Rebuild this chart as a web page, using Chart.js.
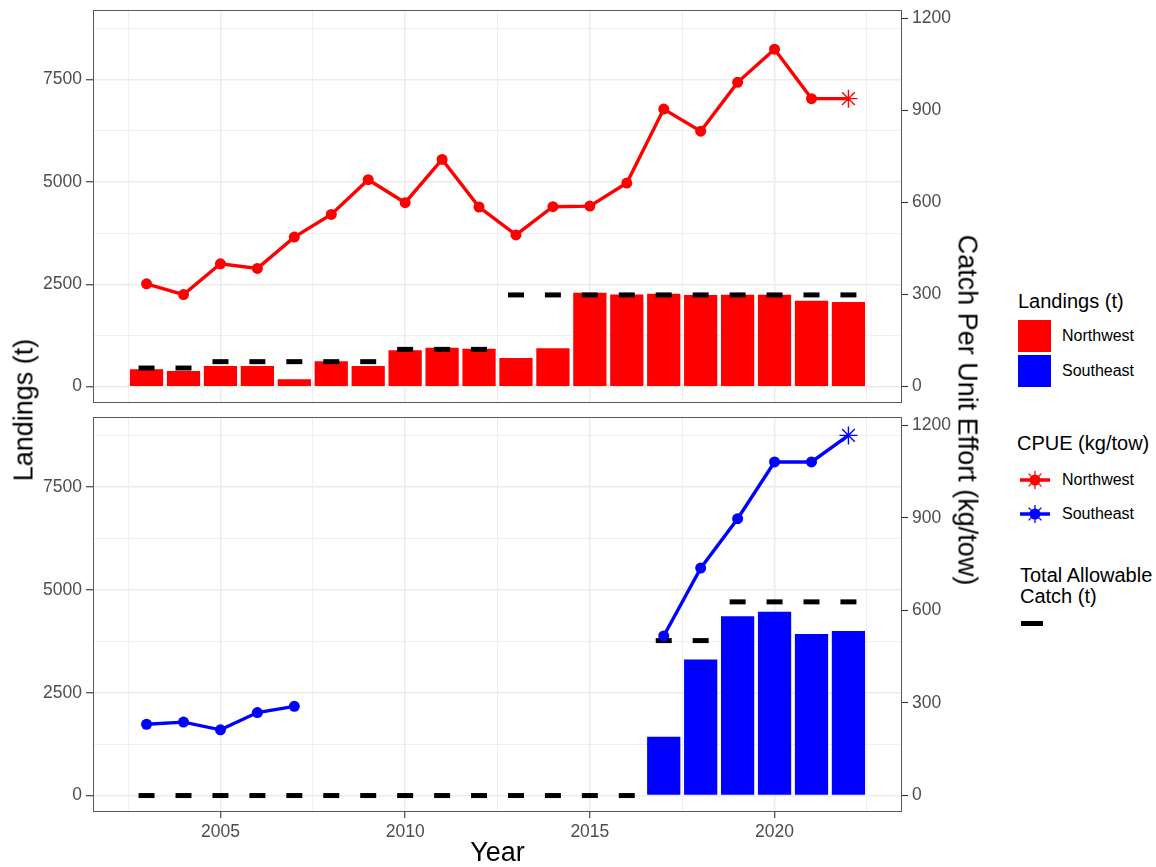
<!DOCTYPE html>
<html>
<head>
<meta charset="utf-8">
<title>Landings, TAC and CPUE</title>
<script src="https://cdn.jsdelivr.net/npm/chart.js@4.4.0/dist/chart.umd.min.js"></script>
<style>
  body { margin: 0; background: #fff; font-family: "Liberation Sans", Arial, sans-serif; }
  #wrap { position: relative; width: 1156px; height: 867px; overflow: hidden; }
  canvas { position: absolute; left: 0; }
  /* each canvas carries 20px of padding above its panel */
  #nw { top: -10px; }
  #se { top: 397px; }
  .axtitle { position: absolute; font-size: 27px; color: #000; white-space: nowrap; }
  .lg { position: absolute; white-space: nowrap; color: #000; }
  .lg.title { font-size: 20px; line-height: 24px; }
  .lg.label { font-size: 16px; line-height: 24px; }
  .key { position: absolute; }
</style>
</head>
<body>
<div id="wrap">
  <canvas id="nw" width="960" height="433"></canvas>
  <canvas id="se" width="960" height="470"></canvas>

  <div class="axtitle" style="left:24px; top:410px; transform: translate(-50%,-50%) rotate(-90deg);">Landings (t)</div>
  <div class="axtitle" style="left:967px; top:410px; transform: translate(-50%,-50%) rotate(90deg);">Catch Per Unit Effort (kg/tow)</div>

  <!-- legend -->
  <div class="lg title" style="left:1018px; top:289px;">Landings (t)</div>
  <div class="key" style="left:1018px; top:320px; width:33px; height:32px; background:#ff0000;"></div>
  <div class="key" style="left:1018px; top:355px; width:33px; height:32px; background:#0000ff;"></div>
  <div class="lg label" style="left:1062px; top:324px;">Northwest</div>
  <div class="lg label" style="left:1062px; top:359px;">Southeast</div>

  <div class="lg title" style="left:1017px; top:431px;">CPUE (kg/tow)</div>
  <svg class="key" style="left:1019px; top:468px;" width="32" height="24" viewBox="0 0 32 24">
    <line x1="1" y1="12" x2="31" y2="12" stroke="#ff0000" stroke-width="3.5"/>
    <circle cx="16" cy="12" r="5.5" fill="#ff0000"/>
    <g stroke="#ff0000" stroke-width="1.3">
      <line x1="16" y1="3" x2="16" y2="21"/><line x1="7" y1="12" x2="25" y2="12"/>
      <line x1="9.6" y1="5.6" x2="22.4" y2="18.4"/><line x1="9.6" y1="18.4" x2="22.4" y2="5.6"/>
    </g>
  </svg>
  <svg class="key" style="left:1019px; top:502px;" width="32" height="24" viewBox="0 0 32 24">
    <line x1="1" y1="12" x2="31" y2="12" stroke="#0000ff" stroke-width="3.5"/>
    <circle cx="16" cy="12" r="5.5" fill="#0000ff"/>
    <g stroke="#0000ff" stroke-width="1.3">
      <line x1="16" y1="3" x2="16" y2="21"/><line x1="7" y1="12" x2="25" y2="12"/>
      <line x1="9.6" y1="5.6" x2="22.4" y2="18.4"/><line x1="9.6" y1="18.4" x2="22.4" y2="5.6"/>
    </g>
  </svg>
  <div class="lg label" style="left:1062px; top:468px;">Northwest</div>
  <div class="lg label" style="left:1062px; top:502px;">Southeast</div>

  <div class="lg title" style="left:1020px; top:565px; line-height:21px;">Total Allowable<br>Catch (t)</div>
  <div class="key" style="left:1021px; top:621px; width:22px; height:5px; background:#000;"></div>
</div>

<script>
// yearly series, 2003-2022
const years = [2003, 2004, 2005, 2006, 2007, 2008, 2009, 2010, 2011, 2012,
               2013, 2014, 2015, 2016, 2017, 2018, 2019, 2020, 2021, 2022];

// landings (t)
const nwLandings = [422, 381, 503, 503, 178, 617, 503, 886, 952, 927,
                    698, 935, 2294, 2253, 2270, 2236, 2245, 2245, 2099, 2065];
const seLandings = [null, null, null, null, null, null, null, null, null, null,
                    null, null, null, null, 1429, 3304, 4358, 4464, 3928, 4001];

// total allowable catch (t)
const nwTac = [454, 454, 610, 610, 610, 610, 610, 910, 910, 910,
               2240, 2240, 2240, 2240, 2240, 2240, 2240, 2240, 2240, 2240];
const seTac = [0, 0, 0, 0, 0, 0, 0, 0, 0, 0,
               0, 0, 0, 0, 3766, 3766, 4707, 4707, 4707, 4707];

// CPUE (kg/tow); last year is provisional and drawn as an asterisk
const nwCpue = [335, 300, 400, 385, 487, 561, 674, 599, 740, 585,
                494, 586, 588, 663, 904, 832, 991, 1099, 938, 938];
const seCpue = [231, 238, 213, 269, 289, null, null, null, null, null,
                null, null, null, null, 517, 737, 897, 1081, 1081, 1167];

// axis labels
const yearTicks = [2005, 2010, 2015, 2020];
const landingsTicks = [0, 2500, 5000, 7500];
const cpueTicks = [0, 300, 600, 900, 1200];

// secondary axis: 1 kg/tow on the right = 7.5 t on the left
const RATIO = 7.5;
const Y_MIN = -400, Y_MAX = 9200;
const X_MIN = 2001.55, X_MAX = 2023.45;

const GRID = '#ebebeb';
const TICK = '#333333';
const FRAME = '#595959';
const INK = '#4d4d4d';

// major + minor grid positions
const xGrid = [];
for (let v = 2002.5; v <= 2022.5; v += 2.5) xGrid.push(v);
const yGrid = [];
for (let v = 0; v <= 8750; v += 1250) yGrid.push(v);

Chart.defaults.font.family = '"Liberation Sans", Arial, sans-serif';
Chart.defaults.font.size = 17.5;
Chart.defaults.color = INK;

const pts = vals => years.map((x, i) => ({ x: x, y: vals[i] }));
const isLast = ctx => ctx.dataIndex === years.length - 1;
// true when the grid context sits on a labelled tick
const major = list => ctx => !!ctx.tick && list.includes(ctx.tick.value);

const panelBorder = {
  id: 'panelBorder',
  afterDatasetsDraw(chart) {
    const { ctx, chartArea: a } = chart;
    ctx.save();
    ctx.strokeStyle = FRAME;
    ctx.lineWidth = 1;
    ctx.strokeRect(Math.round(a.left) + 0.5, Math.round(a.top) + 0.5,
                   Math.round(a.right - a.left) - 1, Math.round(a.bottom - a.top) - 1);
    ctx.restore();
  }
};

function panel(id, landings, tac, cpue, colour, showX) {
  const xMajor = major(yearTicks);
  const yMajor = major(landingsTicks);
  return new Chart(document.getElementById(id), {
    type: 'bar',
    data: {
      datasets: [
        {
          type: 'line',
          data: pts(cpue),
          yAxisID: 'y2',
          borderColor: colour,
          backgroundColor: colour,
          borderWidth: 3.4,
          spanGaps: false,
          pointStyle: ctx => isLast(ctx) ? 'star' : 'circle',
          pointRadius: ctx => isLast(ctx) ? 9 : 5.5,
          pointBorderWidth: ctx => isLast(ctx) ? 1.4 : 0,
          order: 1
        },
        {
          type: 'line',
          data: pts(tac),
          yAxisID: 'y',
          showLine: false,
          pointStyle: 'line',
          pointRadius: 8,
          pointBorderWidth: 5,
          pointBorderColor: '#000',
          order: 2
        },
        {
          type: 'bar',
          data: pts(landings),
          yAxisID: 'y',
          backgroundColor: colour,
          barPercentage: 0.9,
          categoryPercentage: 1,
          order: 3
        }
      ]
    },
    options: {
      responsive: false,
      animation: false,
      events: [],
      layout: { padding: { top: 20, bottom: showX ? 0 : 20, left: 0, right: 0 } },
      plugins: { legend: { display: false }, tooltip: { enabled: false } },
      scales: {
        x: {
          type: 'linear',
          min: X_MIN,
          max: X_MAX,
          offset: false,
          afterBuildTicks: s => { s.ticks = xGrid.map(v => ({ value: v })); },
          ticks: {
            display: showX,
            autoSkip: false,
            maxRotation: 0,
            padding: 4,
            callback: v => yearTicks.includes(v) ? String(v) : ''
          },
          grid: {
            offset: false,
            color: GRID,
            lineWidth: ctx => xMajor(ctx) ? 1.5 : 0.8,
            drawTicks: showX,
            tickLength: 6,
            tickWidth: 1.1,
            tickColor: ctx => xMajor(ctx) ? TICK : 'rgba(0,0,0,0)'
          },
          border: { display: false },
          title: {
            display: showX,
            text: 'Year',
            color: '#000',
            font: { size: 27, lineHeight: 1 },
            padding: 0
          },
          afterFit: s => { s.height = showX ? 55 : 0; s.paddingLeft = 0; s.paddingRight = 0; }
        },
        y: {
          position: 'left',
          min: Y_MIN,
          max: Y_MAX,
          afterBuildTicks: s => { s.ticks = yGrid.map(v => ({ value: v })); },
          ticks: {
            padding: 4,
            callback: v => landingsTicks.includes(v) ? String(v) : ''
          },
          grid: {
            color: GRID,
            lineWidth: ctx => yMajor(ctx) ? 1.5 : 0.8,
            tickLength: 7,
            tickWidth: 1.1,
            tickColor: ctx => yMajor(ctx) ? TICK : 'rgba(0,0,0,0)'
          },
          border: { display: false },
          afterFit: s => { s.width = 93; }
        },
        y2: {
          position: 'right',
          min: Y_MIN / RATIO,
          max: Y_MAX / RATIO,
          afterBuildTicks: s => { s.ticks = cpueTicks.map(v => ({ value: v })); },
          ticks: { padding: 4, callback: v => String(v) },
          grid: {
            drawOnChartArea: false,
            tickLength: 6,
            tickWidth: 1.1,
            tickColor: TICK
          },
          border: { display: false },
          afterFit: s => { s.width = 58; }
        }
      }
    },
    plugins: [panelBorder]
  });
}

panel('nw', nwLandings, nwTac, nwCpue, '#ff0000', false);
panel('se', seLandings, seTac, seCpue, '#0000ff', true);
</script>
</body>
</html>
